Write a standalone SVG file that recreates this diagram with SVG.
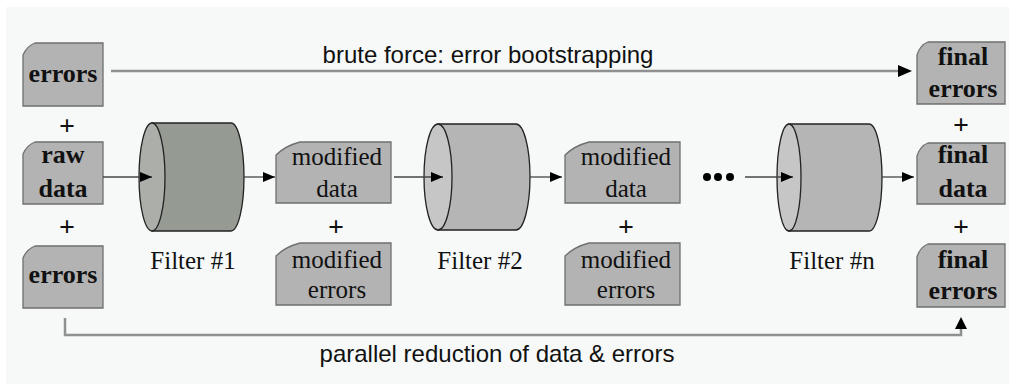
<svg xmlns="http://www.w3.org/2000/svg" width="1015" height="390" viewBox="0 0 1015 390">
<defs>
<style>
.box{fill:#b3b3b3;stroke:#6f6f6f;stroke-width:1.3}
.bt{font-family:"Liberation Serif","Times New Roman",serif;font-weight:bold;font-size:26px;fill:#111;text-anchor:middle}
.nt{font-family:"Liberation Serif","Times New Roman",serif;font-size:25px;fill:#111;text-anchor:middle}
.plus{font-family:"Liberation Serif","Times New Roman",serif;font-weight:bold;font-size:28px;fill:#111;text-anchor:middle}
.st{font-family:"Liberation Sans",Arial,sans-serif;font-size:24px;fill:#111;text-anchor:middle}
.arr{stroke:#444;stroke-width:1.3;fill:none}
.long{stroke:#909090;stroke-width:2.5;fill:none}
.cyl{stroke:#222;stroke-width:1.3}
</style>
<marker id="ah" viewBox="0 0 12 10" refX="12" refY="5" markerWidth="12" markerHeight="10" markerUnits="userSpaceOnUse" orient="auto">
<path d="M0,0 L12,5 L0,10 Z" fill="#000"/>
</marker>
</defs>
<rect width="1015" height="390" fill="#ffffff"/>
<rect x="6" y="7" width="1003" height="377" fill="#f6f9f8"/>

<g id="errors-in">
<path class="box" d="M35,43 L103,43 L103,106 L23,106 L23,55 Q27,46 35,43 Z"/>
<text class="bt" x="63" y="82">errors</text>
</g>
<text class="plus" x="67" y="135">+</text>
<g id="raw-data">
<path class="box" d="M35,142 L103,142 L103,204 L23,204 L23,154 Q27,145 35,142 Z"/>
<text class="bt" x="63" y="163">raw</text>
<text class="bt" x="63" y="197">data</text>
</g>
<text class="plus" x="67" y="236">+</text>
<g id="errors-in2">
<path class="box" d="M35,246 L103,246 L103,308 L23,308 L23,258 Q27,249 35,246 Z"/>
<text class="bt" x="63" y="283">errors</text>
</g>

<g id="filter1">
<path class="cyl" d="M152,123 L231,123 A13,54 0 0 1 231,231 L152,231 Z" fill="#959a93"/>
<ellipse class="cyl" cx="152" cy="177" rx="13" ry="54" fill="#abaea9"/>
<text class="nt" x="193" y="269">Filter #1</text>
</g>

<g id="mod-data1">
<path class="box" d="M300,142 L391,142 L391,203 L276,203 L276,155 Q285,146 300,142 Z"/>
<text class="nt" x="337" y="165">modified</text>
<text class="nt" x="337" y="197">data</text>
</g>
<text class="plus" x="336" y="236">+</text>
<g id="mod-errors1">
<path class="box" d="M300,243 L391,243 L391,305 L276,305 L276,256 Q285,247 300,243 Z"/>
<text class="nt" x="337" y="268">modified</text>
<text class="nt" x="337" y="298">errors</text>
</g>

<g id="filter2">
<path class="cyl" d="M438,124 L516,124 A14,53 0 0 1 516,230 L438,230 Z" fill="#b5b5b5"/>
<ellipse class="cyl" cx="438" cy="177" rx="14" ry="53" fill="#c6c6c6"/>
<text class="nt" x="480" y="269">Filter #2</text>
</g>

<g id="mod-data2">
<path class="box" d="M589,142 L680,142 L680,203 L565,203 L565,155 Q574,146 589,142 Z"/>
<text class="nt" x="626" y="165">modified</text>
<text class="nt" x="626" y="197">data</text>
</g>
<text class="plus" x="626" y="236">+</text>
<g id="mod-errors2">
<path class="box" d="M589,243 L680,243 L680,305 L565,305 L565,256 Q574,247 589,243 Z"/>
<text class="nt" x="626" y="268">modified</text>
<text class="nt" x="626" y="298">errors</text>
</g>

<g id="dots">
<circle cx="707" cy="177" r="4" fill="#000"/>
<circle cx="718" cy="177" r="4" fill="#000"/>
<circle cx="730" cy="177" r="4" fill="#000"/>
</g>

<g id="filtern">
<path class="cyl" d="M789,124 L869,124 A13,53.5 0 0 1 869,231 L789,231 Z" fill="#b5b5b5"/>
<ellipse class="cyl" cx="789" cy="177.5" rx="12" ry="53.5" fill="#c6c6c6"/>
<text class="nt" x="832" y="269">Filter #n</text>
</g>

<g id="final-errors">
<path class="box" d="M928,42 L1005,42 L1005,104 L917,104 L917,55 Q920,45 928,42 Z"/>
<text class="bt" x="963" y="65">final</text>
<text class="bt" x="963" y="97">errors</text>
</g>
<text class="plus" x="961" y="134">+</text>
<g id="final-data">
<path class="box" d="M928,143 L1005,143 L1005,204 L917,204 L917,156 Q920,146 928,143 Z"/>
<text class="bt" x="963" y="163">final</text>
<text class="bt" x="963" y="197">data</text>
</g>
<text class="plus" x="961" y="236">+</text>
<g id="final-errors2">
<path class="box" d="M928,244 L1005,244 L1005,307 L917,307 L917,257 Q920,247 928,244 Z"/>
<text class="bt" x="963" y="268">final</text>
<text class="bt" x="963" y="299">errors</text>
</g>

<text class="st" x="488" y="63">brute force: error bootstrapping</text>
<text class="st" x="497" y="362">parallel reduction of data &amp; errors</text>

<g id="connectors">
<path class="long" d="M111,71 L906,71"/>
<path d="M898,65 L912,71 L898,77 Z" fill="#000"/>
<path class="long" d="M65,318 L65,335 L961,335 L961,328"/>
<path d="M955,329 L961,317 L967,329 Z" fill="#000"/>
<path class="arr" d="M103,177 L152,177" marker-end="url(#ah)"/>
<path class="arr" d="M244,177 L275,177" marker-end="url(#ah)"/>
<path class="arr" d="M394,177 L443,177" marker-end="url(#ah)"/>
<path class="arr" d="M530,177 L562,177" marker-end="url(#ah)"/>
<path class="arr" d="M745,177 L793,177" marker-end="url(#ah)"/>
<path class="arr" d="M882,177 L914,177" marker-end="url(#ah)"/>
</g>
</svg>
